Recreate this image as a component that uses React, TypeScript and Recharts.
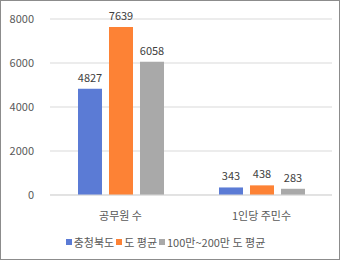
import React from 'react';
import { BarChart, Bar, XAxis, YAxis, CartesianGrid, Legend, LabelList } from 'recharts';

const categories = ['공무원 수', '1인당 주민수'];
const chungbuk = [4827, 343];
const doAvg = [7639, 438];
const midAvg = [6058, 283];
const yTicks = [0, 2000, 4000, 6000, 8000];
const seriesNames = ['충청북도', '도 평균', '100만~200만 도 평균'];
const colors = ['#5b7bd5', '#fd8235', '#a9a9a9'];

const data = categories.map((c, i) => ({ name: c, a: chungbuk[i], b: doAvg[i], c: midAvg[i] }));

const FONT = '"Noto Sans CJK KR", "Noto Sans", sans-serif';

const LegendContent = () => (
  <div style={{ display: 'flex', justifyContent: 'center', alignItems: 'center', height: 16, fontFamily: FONT, fontSize: 11, color: '#595959' }}>
    {seriesNames.map((n, i) => (
      <span key={n} style={{ display: 'flex', alignItems: 'center', marginRight: 2 }}>
        <span style={{ display: 'inline-block', width: 6, height: 6, background: colors[i], marginRight: 2 }} />
        <span>{n}</span>
      </span>
    ))}
  </div>
);

export default function App() {
  return (
    <div style={{ position: 'absolute', left: 0, top: 0, width: 338, height: 258, border: '1px solid #8c8c8c', background: '#fff' }}>
      <BarChart width={338} height={258} data={data} margin={{ top: 18, right: 7, left: 0, bottom: 9 }} barSize={24} barGap={7}>
        <CartesianGrid vertical={false} stroke="#d9d9d9" />
        <XAxis dataKey="name" axisLine={{ stroke: '#d9d9d9' }} tickLine={false} tickMargin={11} height={39}
          tick={{ fontFamily: FONT, fontSize: 11, fill: '#595959' }} />
        <YAxis domain={[0, 8000]} ticks={yTicks} width={49} axisLine={false} tickLine={false} tickMargin={10}
          tick={{ fontFamily: FONT, fontSize: 11, fill: '#595959' }} />
        <Legend verticalAlign="bottom" height={16} content={<LegendContent />} />
        <Bar dataKey="a" name={seriesNames[0]} fill={colors[0]} isAnimationActive={false}>
          <LabelList dataKey="a" position="top" offset={7} style={{ fontFamily: FONT, fontSize: 11, fill: '#404040' }} />
        </Bar>
        <Bar dataKey="b" name={seriesNames[1]} fill={colors[1]} isAnimationActive={false}>
          <LabelList dataKey="b" position="top" offset={7} style={{ fontFamily: FONT, fontSize: 11, fill: '#404040' }} />
        </Bar>
        <Bar dataKey="c" name={seriesNames[2]} fill={colors[2]} isAnimationActive={false}>
          <LabelList dataKey="c" position="top" offset={7} style={{ fontFamily: FONT, fontSize: 11, fill: '#404040' }} />
        </Bar>
      </BarChart>
    </div>
  );
}
